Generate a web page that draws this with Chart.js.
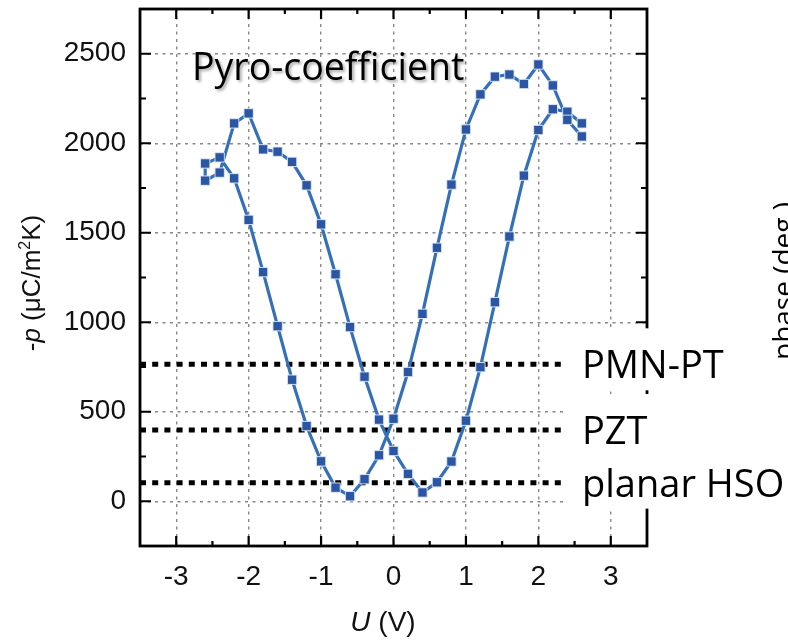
<!DOCTYPE html>
<html>
<head>
<meta charset="utf-8">
<script src="https://cdn.jsdelivr.net/npm/chart.js@4.4.0/dist/chart.umd.min.js"></script>
<style>
  html, body { margin: 0; padding: 0; background: #fff; }
  canvas { display: block; }
</style>
</head>
<body>
<canvas id="chart" width="788" height="640"></canvas>
<script>
// bias voltage steps (V)
const voltages = [-2.6, -2.4, -2.2, -2.0, -1.8, -1.6, -1.4, -1.2, -1.0, -0.8, -0.6, -0.4, -0.2, 0,
                  0.2, 0.4, 0.6, 0.8, 1.0, 1.2, 1.4, 1.6, 1.8, 2.0, 2.2, 2.4, 2.6];
// -p in µC/m²K, sweep from -2.6 V up to +2.6 V
const pSweepUp = [1887, 1921, 1804, 1572, 1280, 978, 679, 420, 223, 76, 28, 123, 257, 461,
                  722, 1047, 1416, 1769, 2077, 2273, 2372, 2384, 2331, 2440, 2323, 2131, 2038];
// -p in µC/m²K, sweep from +2.6 V down to -2.6 V (listed by voltage)
const pSweepDown = [1791, 1836, 2111, 2167, 1966, 1953, 1896, 1765, 1547, 1268, 973, 696, 456, 281,
                    153, 49, 106, 222, 450, 749, 1112, 1479, 1819, 2074, 2190, 2176, 2111];

// literature values drawn as dotted lines
const refLevels = [765, 398, 104];
const refLabels = ['PMN-PT', 'PZT', 'planar HSO'];

const xRange = [-3.5, 3.5];
const yRange = [-250, 2750];
const xTicks = [-3, -2, -1, 0, 1, 2, 3];
const yTicks = [0, 500, 1000, 1500, 2000, 2500];
const xMinorTicks = [-2.5, -1.5, -0.5, 0.5, 1.5, 2.5];
const yMinorTicks = [250, 750, 1250, 1750, 2250];

const sans = "'Liberation Sans', Arial, sans-serif";
const label = "'Open Sans', 'Noto Sans', sans-serif";

// closed loop: down sweep (right to left), then up sweep (left to right)
const loop = [];
for (let i = voltages.length - 1; i >= 0; i--) loop.push({x: voltages[i], y: pSweepDown[i]});
voltages.forEach((v, i) => loop.push({x: v, y: pSweepUp[i]}));

const refSets = refLevels.map(level => ({
  data: xRange.map(x => ({x: x, y: level})),
  showLine: true,
  borderColor: '#000',
  borderWidth: 5,
  borderDash: [6, 6.2],
  pointRadius: 0,
  order: 2
}));

function richText(ctx, parts, x, y, align) {
  let w = 0;
  parts.forEach(p => { ctx.font = p.f; w += ctx.measureText(p.t).width; });
  let cx = align === 'center' ? x - w / 2 : x;
  parts.forEach(p => {
    ctx.font = p.f;
    ctx.fillText(p.t, cx, y + (p.dy || 0));
    cx += ctx.measureText(p.t).width;
  });
}

function noPad(s) {
  s.paddingTop = 0; s.paddingBottom = 0; s.paddingLeft = 0; s.paddingRight = 0;
}

const decor = {
  id: 'decor',
  afterDatasetsDraw(chart) {
    const {ctx, chartArea: a, scales: {x, y}} = chart;
    ctx.save();
    ctx.strokeStyle = '#000';
    ctx.lineWidth = 2.8;
    ctx.strokeRect(a.left, a.top, a.right - a.left, a.bottom - a.top);

    // inward ticks on all four sides
    ctx.lineWidth = 2.2;
    ctx.beginPath();
    const xt = (v, len) => {
      const px = x.getPixelForValue(v);
      ctx.moveTo(px, a.bottom); ctx.lineTo(px, a.bottom - len);
      ctx.moveTo(px, a.top); ctx.lineTo(px, a.top + len);
    };
    const yt = (v, len) => {
      const py = y.getPixelForValue(v);
      ctx.moveTo(a.left, py); ctx.lineTo(a.left + len, py);
      ctx.moveTo(a.right, py); ctx.lineTo(a.right - len, py);
    };
    xTicks.forEach(v => xt(v, 10));
    xMinorTicks.forEach(v => xt(v, 5));
    yTicks.forEach(v => yt(v, 11));
    yMinorTicks.forEach(v => yt(v, 6));
    ctx.stroke();

    // white label patches and labels
    refLevels.forEach((level, i) => {
      const py = y.getPixelForValue(level);
      ctx.fillStyle = '#fff';
      const right = i === refLevels.length - 1 ? 788 : 766;
      ctx.fillRect(563, py - 36, right - 563, 62);
    });
    ctx.fillStyle = '#000';
    ctx.font = '38px ' + label;
    ctx.textBaseline = 'alphabetic';
    refLevels.forEach((level, i) => {
      const py = y.getPixelForValue(level);
      ctx.fillText(refLabels[i], 582, py + 14);
    });

    // title inside the plot
    ctx.save();
    ctx.shadowColor = 'rgba(0,0,0,0.35)';
    ctx.shadowBlur = 3;
    ctx.shadowOffsetX = 2;
    ctx.shadowOffsetY = 2;
    ctx.font = '37.5px ' + label;
    ctx.fillText('Pyro-coefficient', 192, 80);
    ctx.restore();

    // axis titles
    ctx.fillStyle = '#111';
    richText(ctx, [
      {t: 'U', f: 'italic 28px ' + sans},
      {t: ' (V)', f: '28px ' + sans}
    ], 383, 631, 'center');

    ctx.save();
    ctx.translate(39.5, 283);
    ctx.rotate(-Math.PI / 2);
    richText(ctx, [
      {t: '-', f: '26px ' + sans},
      {t: 'p', f: 'italic 26px ' + sans},
      {t: ' (\u03bcC/m', f: '26px ' + sans},
      {t: '2', f: '16px ' + sans, dy: -10},
      {t: 'K)', f: '26px ' + sans}
    ], 0, 0, 'center');
    ctx.restore();

    // cut-off title of the neighbouring panel
    ctx.save();
    ctx.translate(793, 360);
    ctx.rotate(-Math.PI / 2);
    ctx.font = '28px ' + label;
    ctx.fillStyle = '#000';
    ctx.fillText('phase (deg.)', 0, 0);
    ctx.restore();

    ctx.restore();
  }
};

const ctx = document.getElementById('chart').getContext('2d');
new Chart(ctx, {
  type: 'scatter',
  data: {
    datasets: [{
      data: loop,
      showLine: true,
      borderColor: '#3470b9',
      borderWidth: 3.2,
      pointStyle: 'rect',
      pointRadius: 6.6,
      pointBackgroundColor: '#2a56a3',
      pointBorderColor: 'rgba(225,233,246,0.9)',
      pointBorderWidth: 1,
      order: 1
    }, ...refSets]
  },
  options: {
    responsive: false,
    animation: false,
    layout: {padding: {left: 0, right: 141, top: 9, bottom: 0}},
    plugins: {legend: {display: false}, tooltip: {enabled: false}},
    scales: {
      x: {
        type: 'linear',
        min: xRange[0],
        max: xRange[1],
        afterBuildTicks: s => { s.ticks = xTicks.map(v => ({value: v})); },
        afterFit: s => { s.height = 94; noPad(s); },
        ticks: {font: {family: sans, size: 28}, color: '#111', padding: 14, maxRotation: 0, autoSkip: false,
                callback: v => String(v)},
        grid: {color: '#888', lineWidth: 1.4, drawTicks: false},
        border: {display: false, dash: [3, 4.5]}
      },
      y: {
        type: 'linear',
        min: yRange[0],
        max: yRange[1],
        afterBuildTicks: s => { s.ticks = yTicks.map(v => ({value: v})); },
        afterFit: s => { s.width = 140; noPad(s); },
        ticks: {font: {family: sans, size: 28}, color: '#111', padding: 14, autoSkip: false,
                callback: v => String(v)},
        grid: {color: '#888', lineWidth: 1.4, drawTicks: false},
        border: {display: false, dash: [3, 4.5]}
      }
    }
  },
  plugins: [decor]
});
</script>
</body>
</html>
